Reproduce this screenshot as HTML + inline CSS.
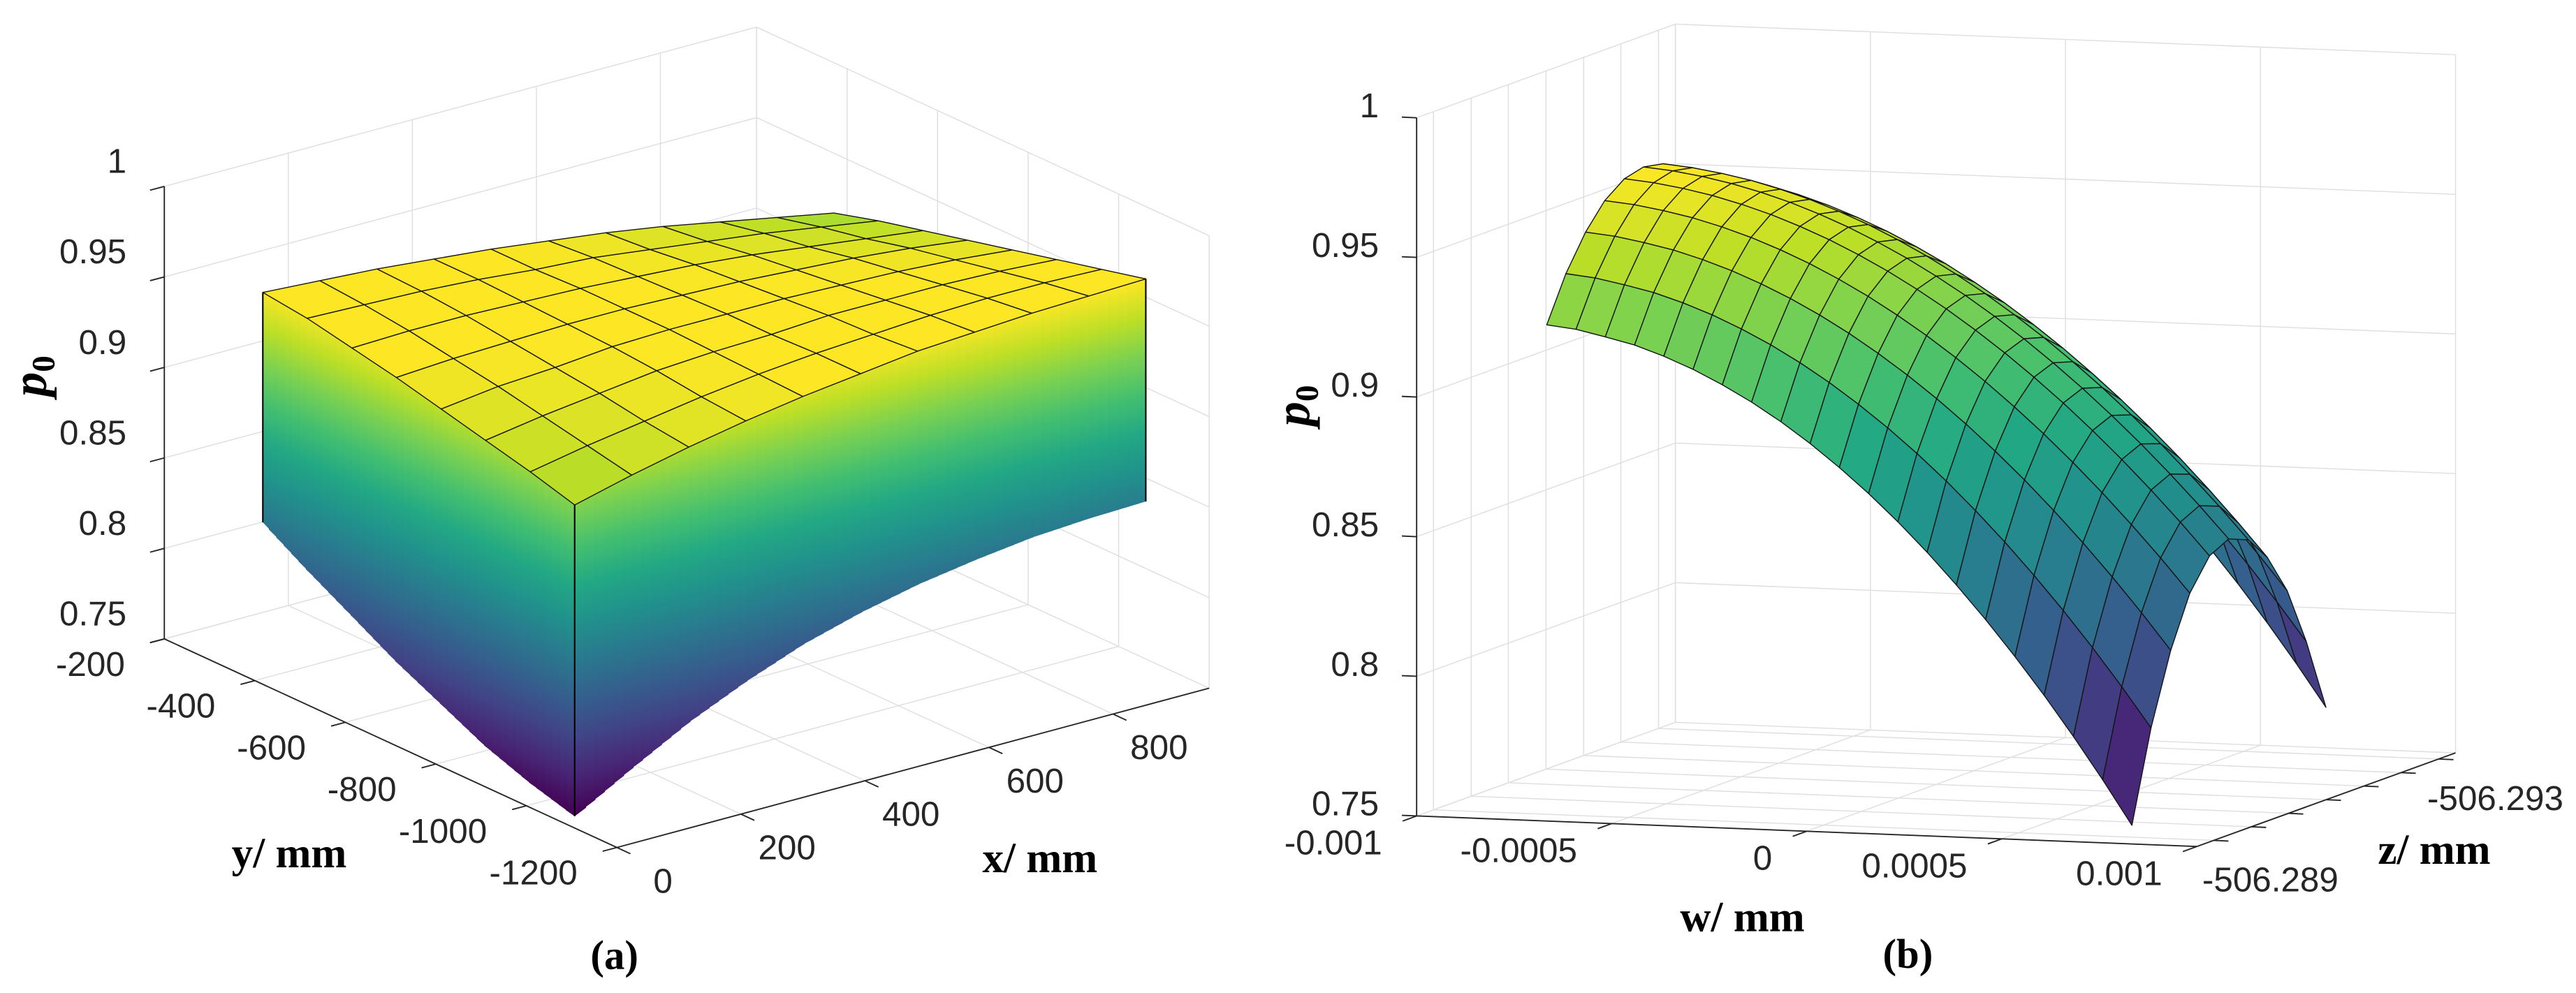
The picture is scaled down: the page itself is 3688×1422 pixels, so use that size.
<!DOCTYPE html>
<html><head><meta charset="utf-8"><style>
html,body{margin:0;padding:0;background:#fff;}
svg{display:block;}
</style></head><body>
<svg id="fig" width="3688" height="1422" viewBox="0 0 1568 604.6">
<rect x="0" y="0" width="1568" height="604.6" fill="#ffffff"/>
<defs id="defs"></defs>
</svg>
<script>
// ---------- data: panel (a) ----------
const zTicks = [0.75, 0.8, 0.85, 0.9, 0.95, 1];
const zTickLabels = ['0.75', '0.8', '0.85', '0.9', '0.95', '1'];
const xTicksA = [0, 200, 400, 600, 800];
const xTickLabelsA = ['0', '200', '400', '600', '800'];
const yTicksA = [-1200, -1000, -800, -600, -400, -200];
const yTickLabelsA = ['-1200', '-1000', '-800', '-600', '-400', '-200'];
const surfXA = [26, 118, 210, 302, 394, 487, 579, 671, 763, 855, 947];
const surfYA = [-1071, -973, -874, -776, -677, -579, -480, -382];
const surfZA = [
  [0.922,0.930,0.937,0.943,0.948,0.952,0.956,0.958,0.960,0.961,0.962],
  [0.929,0.935,0.940,0.945,0.949,0.952,0.954,0.956,0.957,0.957,0.956],
  [0.935,0.940,0.944,0.948,0.950,0.951,0.953,0.953,0.953,0.952,0.950],
  [0.941,0.945,0.947,0.950,0.951,0.951,0.951,0.950,0.949,0.947,0.944],
  [0.947,0.949,0.950,0.951,0.951,0.950,0.949,0.947,0.945,0.942,0.938],
  [0.952,0.953,0.953,0.952,0.951,0.949,0.947,0.944,0.940,0.936,0.932],
  [0.957,0.956,0.955,0.953,0.950,0.948,0.944,0.940,0.936,0.931,0.926],
  [0.960,0.958,0.956,0.953,0.950,0.946,0.942,0.937,0.931,0.925,0.919]
];
const leftBottomA = [0.75, 0.757, 0.766, 0.778, 0.790, 0.804, 0.818, 0.833];
const rightBottomA = [0.75, 0.768, 0.785, 0.799, 0.811, 0.820, 0.827, 0.832, 0.836, 0.838, 0.839];

// ---------- data: panel (b) ----------
const wTicksB = [-0.001, -0.0005, 0, 0.0005, 0.001];
const wTickLabelsB = ['-0.001', '-0.0005', '0', '0.0005', '0.001'];
const depthTicksB = [-506.2890, -506.28967, -506.29033, -506.2910, -506.29167, -506.29233, -506.2930];
const depthTickLabelsB = ['-506.289', '', '', '', '', '', '-506.293'];
const surfWB = [-0.00075,-0.000675,-0.0006,-0.000525,-0.00045,-0.000375,-0.0003,-0.000225,-0.00015,-0.000075,0,0.000075,0.00015,0.000225,0.0003,0.000375,0.00045,0.000525,0.0006,0.000675,0.00075];
const surfDB = [-506.28928,-506.28962,-506.28997,-506.29031,-506.29066,-506.29100,-506.29135,-506.29169,-506.29204,-506.29238,-506.29273];
const ridgeB = [0.967,0.966,0.9644,0.9623,0.9596,0.9564,0.9526,0.9483,0.9434,0.938,0.932,0.9255,0.9184,0.9108,0.9026,0.8939,0.8846,0.8748,0.8644,0.8535,0.842];
const dropB = [0.044,0.0442,0.0449,0.0453,0.0462,0.0473,0.0486,0.0501,0.0518,0.0538,0.056,0.0584,0.061,0.0639,0.067,0.0703,0.0738,0.0775,0.0814,0.0856,0.09];
const shapeB = [1, 0.64, 0.36, 0.16, 0.04, 0, 0.032, 0.13, 0.29, 0.52, 0.81];

// ---------- helpers ----------
const svg = document.getElementById('fig');
const defs = document.getElementById('defs');
const NS = svg.namespaceURI;
const VIR = ['#440154','#482475','#414487','#355f8d','#2a788e','#21918c','#22a884','#44bf70','#7ad151','#bddf26','#fde725'];
function hex(h){return [parseInt(h.substr(1,2),16),parseInt(h.substr(3,2),16),parseInt(h.substr(5,2),16)];}
function cmap(t){
  t=Math.max(0,Math.min(1,t));
  const p=t*10, i=Math.min(9,Math.floor(p)), f=p-i;
  const a=hex(VIR[i]), b=hex(VIR[i+1]);
  return 'rgb('+a.map((v,k)=>Math.round(v+(b[k]-v)*f)).join(',')+')';
}
function mk(tag, attrs, parent){
  const el=document.createElementNS(NS,tag);
  for(const k in attrs) el.setAttribute(k, attrs[k]);
  (parent||svg).appendChild(el);
  return el;
}
function line(p,q,color,w,parent,name){
  const el=mk('line',{x1:p[0].toFixed(2),y1:p[1].toFixed(2),x2:q[0].toFixed(2),y2:q[1].toFixed(2),stroke:color,'stroke-width':w},parent);
  
  
  return el;
}
function label(x,y,str,anchor,size,parent,name,extra){
  const el=mk('text',Object.assign({x:x.toFixed(2),y:y.toFixed(2),'text-anchor':anchor,'font-size':size,'font-family':'"Liberation Sans", Arial, sans-serif',fill:'#262626'},extra||{}),parent);
  el.textContent=str;
  
  
  return el;
}
function poly(pts,fill,stroke,sw,parent,name){
  const el=mk('polygon',{points:pts.map(p=>p[0].toFixed(2)+','+p[1].toFixed(2)).join(' '),fill:fill,stroke:stroke,'stroke-width':sw,'stroke-linejoin':'round'},parent);
  
  
  return el;
}
let gradId=0;
function vgrad(x,y0,y1){
  const id='g'+(gradId++);
  const g=mk('linearGradient',{id:id,gradientUnits:'userSpaceOnUse',x1:x,y1:y0,x2:x,y2:y1},defs);
  VIR.forEach((c,i)=>mk('stop',{offset:(i/10),'stop-color':c},g));
  return 'url(#'+id+')';
}
const GRID='#dedede', AX='#262626';

// ================= PANEL A =================
const gA = mk('g',{});


const XMAX=955, YMIN=-1200, YMAX=-200;
function PA(x,y,z){const a=x/XMAX,b=(y-YMIN)/(YMAX-YMIN),c=(z-0.75)/0.25;return [375.5+360.5*a-275.5*b, 516-97*a-127*b-275.5*c];}

xTicksA.concat([XMAX]).forEach(x=>line(PA(x,YMAX,0.75),PA(x,YMAX,1),GRID,0.6,gA,'grid-line'));
zTicks.forEach(z=>line(PA(0,YMAX,z),PA(XMAX,YMAX,z),GRID,0.6,gA,'grid-line'));
yTicksA.forEach(y=>line(PA(XMAX,y,0.75),PA(XMAX,y,1),GRID,0.6,gA,'grid-line'));
zTicks.forEach(z=>line(PA(XMAX,YMIN,z),PA(XMAX,YMAX,z),GRID,0.6,gA,'grid-line'));
xTicksA.forEach(x=>line(PA(x,YMIN,0.75),PA(x,YMAX,0.75),GRID,0.6,gA,'grid-line'));
yTicksA.forEach(y=>line(PA(0,y,0.75),PA(XMAX,y,0.75),GRID,0.6,gA,'grid-line'));

let zmaxA=-1; surfZA.forEach(r=>r.forEach(v=>{if(v>zmaxA)zmaxA=v;}));
const zminA=0.75;
const topClimMax=0.95;
function gradFor(P,x,y){const b=P(x,y,zminA),t=P(x,y,zmaxA);return vgrad(b[0],b[1],t[1]);}
function lerp(a,b,t){return a+(b-a)*t;}
const SUB=6;
for(let k=0;k<surfYA.length-1;k++){
  for(let s=0;s<SUB;s++){
    const t1=s/SUB,t2=(s+1)/SUB;
    const x=surfXA[0];
    const y1=lerp(surfYA[k],surfYA[k+1],t1), y2=lerp(surfYA[k],surfYA[k+1],t2)+ (t2<1||k<surfYA.length-2?3:0);
    const zt1=lerp(surfZA[k][0],surfZA[k+1][0],t1), zt2=lerp(surfZA[k][0],surfZA[k+1][0],Math.min(1,t2));
    const zb1=lerp(leftBottomA[k],leftBottomA[k+1],t1), zb2=lerp(leftBottomA[k],leftBottomA[k+1],Math.min(1,t2));
    const fill=gradFor(PA,x,(y1+y2)/2);
    poly([PA(x,y1,zb1),PA(x,y1,zt1+0.001),PA(x,y2,zt2+0.001),PA(x,y2,zb2)],fill,'none',0,gA,'left-side-strip');
  }
}
for(let i=0;i<surfXA.length-1;i++){
  for(let s=0;s<SUB;s++){
    const t1=s/SUB,t2=(s+1)/SUB;
    const y=surfYA[0];
    const x1=lerp(surfXA[i],surfXA[i+1],t1), x2=lerp(surfXA[i],surfXA[i+1],t2)+(i<surfXA.length-2||s<SUB-1?3:0);
    const zt1=lerp(surfZA[0][i],surfZA[0][i+1],t1), zt2=lerp(surfZA[0][i],surfZA[0][i+1],t2);
    const zb1=lerp(rightBottomA[i],rightBottomA[i+1],t1), zb2=lerp(rightBottomA[i],rightBottomA[i+1],t2);
    const fill=gradFor(PA,(x1+x2)/2,y);
    poly([PA(x1,y,zb1),PA(x1,y,zt1+0.001),PA(x2,y,zt2+0.001),PA(x2,y,zb2)],fill,'none',0,gA,'front-side-strip');
  }
}
const quadsA=[];
for(let j=0;j<surfYA.length-1;j++)for(let i=0;i<surfXA.length-1;i++){
  const zs=[surfZA[j][i],surfZA[j][i+1],surfZA[j+1][i+1],surfZA[j+1][i]];
  const avg=(zs[0]+zs[1]+zs[2]+zs[3])/4;
  const xc=(surfXA[i]+surfXA[i+1])/2, yc=(surfYA[j]+surfYA[j+1])/2;
  quadsA.push({depth:PA(xc,yc,0.75)[1],pts:[PA(surfXA[i],surfYA[j],zs[0]),PA(surfXA[i+1],surfYA[j],zs[1]),PA(surfXA[i+1],surfYA[j+1],zs[2]),PA(surfXA[i],surfYA[j+1],zs[3])],c:cmap((avg-zminA)/(topClimMax-zminA))});
}
quadsA.sort((a,b)=>a.depth-b.depth).forEach(q=>poly(q.pts,q.c,'#151515',0.6,gA,'surface-patch'));
const nY=surfYA.length-1, nX=surfXA.length-1;
line(PA(surfXA[0],surfYA[nY],surfZA[nY][0]),PA(surfXA[0],surfYA[nY],leftBottomA[nY]),'#000',0.9,gA,'left-edge');
line(PA(surfXA[0],surfYA[0],surfZA[0][0]),PA(surfXA[0],surfYA[0],0.75),'#000',0.9,gA,'front-edge');
line(PA(surfXA[nX],surfYA[0],surfZA[0][nX]),PA(surfXA[nX],surfYA[0],rightBottomA[nX]),'#000',0.9,gA,'right-edge');

line(PA(0,YMAX,0.75),PA(0,YMAX,1),AX,0.8,gA,'z-axis');
line(PA(0,YMIN,0.75),PA(0,YMAX,0.75),AX,0.8,gA,'y-axis');
line(PA(0,YMIN,0.75),PA(XMAX,YMIN,0.75),AX,0.8,gA,'x-axis');
zTicks.forEach((z,i)=>{const p=PA(0,YMAX,z);line(p,[p[0]-8.7,p[1]+2.3],AX,0.8,gA,'z-tick');
  label(p[0]-23,p[1]-15.7+7.5,zTickLabels[i],'end',21,gA,'z-tick-label');});
yTicksA.forEach((y,i)=>{const p=PA(0,y,0.75);line(p,[p[0]-8.7,p[1]+2.3],AX,0.8,gA,'y-tick');
  label(p[0]-24,p[1]+15+7.5,yTickLabelsA[i],'end',21,gA,'y-tick-label');});
xTicksA.forEach((x,i)=>{const p=PA(x,YMIN,0.75);line(p,[p[0]+8.2,p[1]+3.8],AX,0.8,gA,'x-tick');
  label(p[0]+28,p[1]+20+7.5,xTickLabelsA[i],'middle',21,gA,'x-tick-label');});
const serifB={'font-family':'"Liberation Serif", "Times New Roman", serif','font-weight':'bold',fill:'#000'};
label(176,528,'y/ mm','middle',26,gA,'y-axis-title',serifB);
label(633,531,'x/ mm','middle',26,gA,'x-axis-title',serifB);
label(374,590,'(a)','middle',25,gA,'panel-a-caption',serifB);
const pA=label(0,0,'','middle',30,gA,'z-axis-title-a',Object.assign({transform:'translate(28,229) rotate(-90)','font-style':'italic'},serifB));
pA.innerHTML='p<tspan font-size="20" dy="5" font-style="normal">0</tspan>';

// ================= PANEL B =================
const gB = mk('g',{});


const W0=-0.001,W1=0.001,DF=-506.2887,DB=-506.2933;
function PB(w,d,z){const a=(w-W0)/(W1-W0),b=(DF-d)/(DF-DB),c=(z-0.75)/0.25;return [862.3+474.9*a+157.5*b, 496.8+18.6*a-57*b-425.1*c];}
depthTicksB.concat([DB]).forEach(d=>line(PB(W0,d,0.75),PB(W0,d,1),GRID,0.6,gB,'grid-line'));
zTicks.forEach(z=>line(PB(W0,DF,z),PB(W0,DB,z),GRID,0.6,gB,'grid-line'));
wTicksB.forEach(w=>line(PB(w,DB,0.75),PB(w,DB,1),GRID,0.6,gB,'grid-line'));
zTicks.forEach(z=>line(PB(W0,DB,z),PB(W1,DB,z),GRID,0.6,gB,'grid-line'));
wTicksB.forEach(w=>line(PB(w,DF,0.75),PB(w,DB,0.75),GRID,0.6,gB,'grid-line'));
depthTicksB.forEach(d=>line(PB(W0,d,0.75),PB(W1,d,0.75),GRID,0.6,gB,'grid-line'));

const ZB=shapeB.map((s,j)=>ridgeB.map((r,i)=>r-dropB[i]*s));
let zmaxB=-1,zminB=2; ZB.forEach(r=>r.forEach(v=>{if(v>zmaxB)zmaxB=v;if(v<zminB)zminB=v;}));
const quadsB=[];
for(let j=0;j<surfDB.length-1;j++)for(let i=0;i<surfWB.length-1;i++){
  const zs=[ZB[j][i],ZB[j][i+1],ZB[j+1][i+1],ZB[j+1][i]];
  const avg=(zs[0]+zs[1]+zs[2]+zs[3])/4;
  const wc=(surfWB[i]+surfWB[i+1])/2, dc=(surfDB[j]+surfDB[j+1])/2;
  quadsB.push({depth:PB(wc,dc,0.75)[1],pts:[PB(surfWB[i],surfDB[j],zs[0]),PB(surfWB[i+1],surfDB[j],zs[1]),PB(surfWB[i+1],surfDB[j+1],zs[2]),PB(surfWB[i],surfDB[j+1],zs[3])],c:cmap((avg-zminB)/(zmaxB-zminB))});
}
quadsB.sort((a,b)=>a.depth-b.depth).forEach(q=>poly(q.pts,q.c,'#151515',0.6,gB,'surface-patch'));

line(PB(W0,DF,0.75),PB(W0,DF,1),AX,0.8,gB,'z-axis');
line(PB(W0,DF,0.75),PB(W1,DF,0.75),AX,0.8,gB,'w-axis');
line(PB(W1,DF,0.75),PB(W1,DB,0.75),AX,0.8,gB,'depth-axis');
zTicks.forEach((z,i)=>{const p=PB(W0,DF,z);line(p,[p[0]-9,p[1]-0.4],AX,0.8,gB,'z-tick');
  label(p[0]-23,p[1]-7.8+7.5,zTickLabels[i],'end',21,gB,'z-tick-label');});
wTicksB.forEach((w,i)=>{const p=PB(w,DF,0.75);line(p,[p[0]-8.5,p[1]+3.1],AX,0.8,gB,'w-tick');
  label(p[0]-21,p[1]+16+7.5,wTickLabelsB[i],'end',21,gB,'w-tick-label');});
depthTicksB.forEach((d,i)=>{const p=PB(W1,d,0.75);line(p,[p[0]+9,p[1]+0.4],AX,0.8,gB,'depth-tick');
  if(depthTickLabelsB[i]) label(p[0]+34.5,p[1]+23.5+7.5,depthTickLabelsB[i],'middle',21,gB,'depth-tick-label');});
label(1060.6,567,'w/ mm','middle',26,gB,'w-axis-title',serifB);
label(1481.7,526,'z/ mm','middle',26,gB,'depth-axis-title',serifB);
label(1161.3,589,'(b)','middle',25,gB,'panel-b-caption',serifB);
const pB=label(0,0,'','middle',30,gB,'z-axis-title-b',Object.assign({transform:'translate(797,247) rotate(-90)','font-style':'italic'},serifB));
pB.innerHTML='p<tspan font-size="20" dy="5" font-style="normal">0</tspan>';
</script>
</body></html>
